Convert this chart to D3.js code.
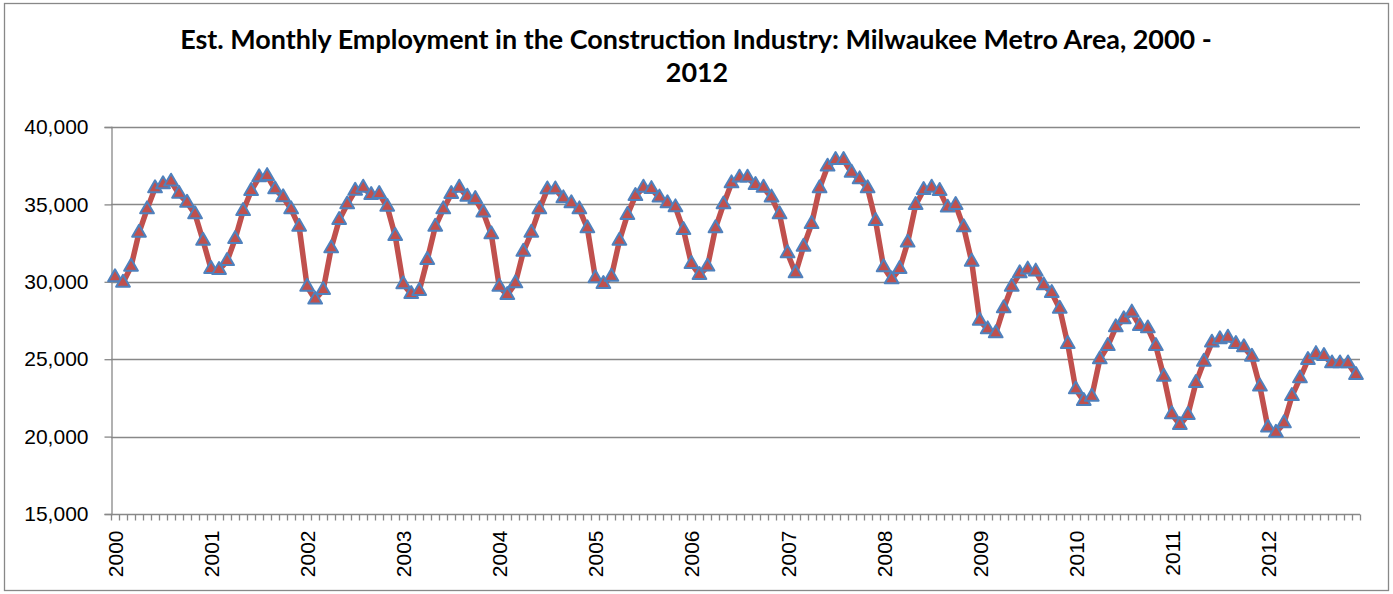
<!DOCTYPE html>
<html><head><meta charset="utf-8">
<script src="https://cdn.jsdelivr.net/npm/d3@7"></script>
<style>body{margin:0;background:#fff}</style>
</head><body>
<svg id="c" width="1393" height="594"></svg>
<script>
const years = [2000,2001,2002,2003,2004,2005,2006,2007,2008,2009,2010,2011,2012];
const yTicks = [15000,20000,25000,30000,35000,40000];
const titleLines = ["Est. Monthly Employment in the Construction Industry: Milwaukee Metro Area, 2000 -", "2012"];
const values2000 = [30290,29940,30975,33170,34680,36040,36300,36470,35680,35110,34360,32650];
const values2001 = [30830,30760,31340,32760,34570,35870,36750,36830,35970,35460,34680,33560];
const values2002 = [29680,28850,29470,32160,33990,35000,35880,36080,35610,35670,34850,32960];
const values2003 = [29840,29210,29410,31410,33560,34680,35670,36080,35500,35350,34470,33070];
const values2004 = [29680,29150,29900,31940,33170,34680,35970,35970,35390,35070,34680,33460];
const values2005 = [30230,29860,30330,32650,34320,35540,36080,35990,35440,35070,34810,33350];
const values2006 = [31150,30440,30980,33460,35000,36360,36730,36730,36250,36080,35440,34360];
const values2007 = [31840,30550,32270,33730,36040,37440,37870,37870,37050,36620,36040,33930];
const values2008 = [30940,30160,30830,32530,34960,35930,36080,35870,34790,34960,33520,31300];
const values2009 = [27490,26930,26670,28290,29680,30550,30790,30660,29770,29280,28260,25980];
const values2010 = [23050,22300,22580,24990,25850,27060,27580,28010,27140,26990,25850,23870];
const values2011 = [21450,20750,21400,23460,24840,26070,26290,26390,25980,25770,25160,23230];
const values2012 = [20580,20250,20860,22620,23760,24950,25330,25210,24730,24730,24730,23980];

const allValues = [].concat(values2000,values2001,values2002,values2003,values2004,values2005,values2006,values2007,values2008,values2009,values2010,values2011,values2012);
const months = [];
years.forEach(yr => { for (let m = 0; m < 12; m++) months.push(yr + "-" + m); });
const data = months.map((k, i) => ({k, v: allValues[i]}));

const svg = d3.select("#c");
const pL = 111, pR = 1360, pT = 127, pB = 514;

svg.append("rect").attr("x",4.5).attr("y",3.5).attr("width",1384).attr("height",587)
  .attr("fill","#fff").attr("stroke","#888").attr("stroke-width",1.3);

const xs = d3.scaleBand().domain(months).range([pL, pR]);
const ys = d3.scaleLinear().domain([15000, 40000]).range([pB, pT]);

// gridlines
svg.append("g").selectAll("line").data(yTicks.filter(t => t > 15000)).join("line")
  .attr("x1", pL).attr("x2", pR).attr("y1", d => Math.round(ys(d)) + 0.5).attr("y2", d => Math.round(ys(d)) + 0.5)
  .attr("stroke", "#888").attr("stroke-width", 1.3);

// y axis
const yAxis = d3.axisLeft(ys).tickValues(yTicks).tickSize(7).tickPadding(16).tickFormat(d3.format(","));
const gy = svg.append("g").attr("transform", `translate(${pL + 0.5},0)`).call(yAxis);
gy.select(".domain").attr("stroke", "#888").attr("stroke-width", 1.3);
gy.selectAll(".tick line").attr("stroke", "#888").attr("stroke-width", 1.3);
gy.selectAll(".tick text").attr("font-family", "Liberation Sans, Arial, sans-serif").attr("font-size", 21).attr("fill", "#000");

// x axis: ticks at category boundaries
const gx = svg.append("g").attr("transform", `translate(0,${pB + 0.5})`);
gx.append("line").attr("x1", pL).attr("x2", pR).attr("stroke", "#888").attr("stroke-width", 1.3);
const bounds = months.map(m => xs(m)).concat([pR]);
gx.selectAll("line.t").data(bounds).join("line").attr("class","t")
  .attr("x1", d => Math.round(d) + 0.5).attr("x2", d => Math.round(d) + 0.5).attr("y1", 0).attr("y2", 6)
  .attr("stroke", "#888").attr("stroke-width", 1.3);
gx.selectAll("text").data(years).join("text")
  .attr("transform", d => `translate(${xs(d + "-0") + xs.bandwidth()/2 + 8},16) rotate(-90)`)
  .attr("text-anchor", "end")
  .attr("font-family", "Liberation Sans, Arial, sans-serif").attr("font-size", 21).attr("fill", "#000")
  .text(d => d);

// line
const line = d3.line().x(d => xs(d.k) + xs.bandwidth()/2).y(d => ys(d.v));
svg.append("path").datum(data).attr("d", line).attr("fill", "none")
  .attr("stroke", "#C0504D").attr("stroke-width", 5.5).attr("stroke-linejoin", "round");

// markers
const tri = d3.symbol().type(d3.symbolTriangle).size(82);
svg.append("g").selectAll("path").data(data).join("path")
  .attr("d", tri)
  .attr("transform", d => `translate(${xs(d.k) + xs.bandwidth()/2},${ys(d.v)})`)
  .attr("fill", "#C0504D").attr("stroke", "#4F81BD").attr("stroke-width", 2).attr("stroke-linejoin", "round");

// title
const tg = svg.append("g").attr("font-family", "Lato, 'Open Sans', sans-serif").attr("font-weight", "bold").attr("fill", "#000");
const t1 = tg.append("text").attr("x", 696).attr("y", 49).attr("text-anchor", "middle").attr("font-size", 24).text(titleLines[0]);
const w = t1.node().getComputedTextLength();
const fs = 24 * 1032 / w;
t1.attr("font-size", fs);
tg.append("text").attr("x", 697).attr("y", 82).attr("text-anchor", "middle").attr("font-size", fs).text(titleLines[1]);
</script>
</body></html>
